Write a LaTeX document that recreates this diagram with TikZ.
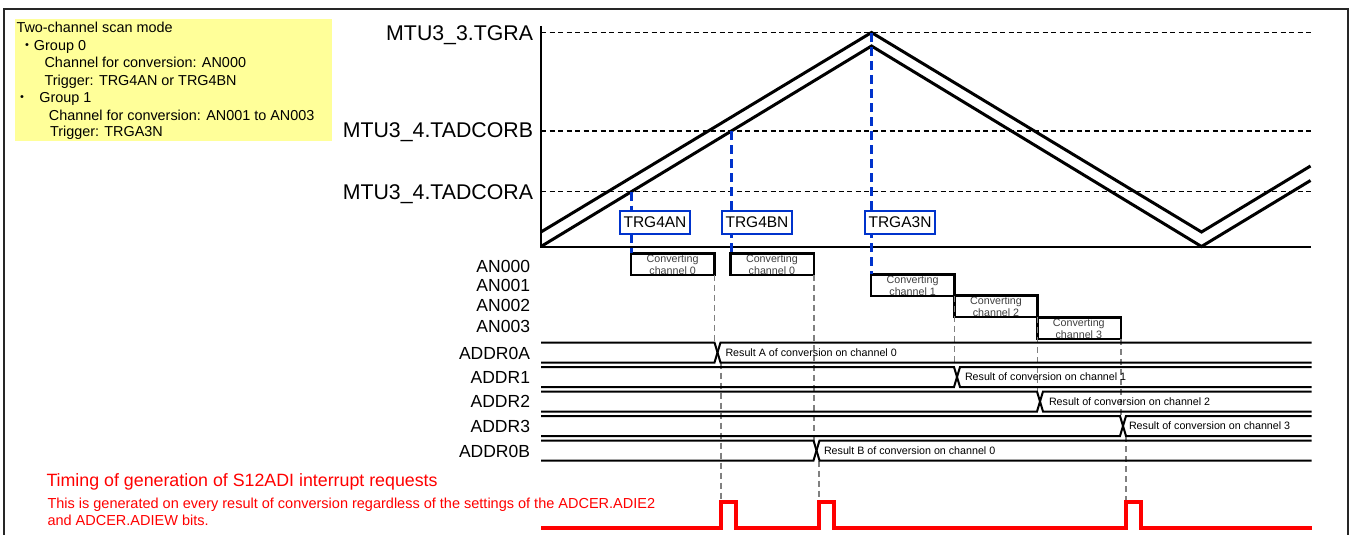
\documentclass[tikz,border=0pt]{standalone}
\usepackage{fontspec}
\setmainfont{Liberation Sans}
\newfontfamily\cjkfont{Noto Sans CJK JP}
\definecolor{noteyellow}{RGB}{255,255,153}
\definecolor{trigblue}{RGB}{0,51,204}
\definecolor{guidegray}{RGB}{128,128,128}
\begin{document}
\begin{tikzpicture}[x=1pt,y=-1pt,
  every node/.style={inner sep=0pt,outer sep=0pt},
  frameline/.style={line width=1.5pt,black!85},
  notebox/.style={fill=noteyellow,draw=none,anchor=north west},
  notetxt/.style={font=\fontsize{14.4}{17}\selectfont,anchor=base west},
  notedot/.style={font=\fontsize{14.4}{17}\cjkfont,anchor=base},
  levlbl/.style={font=\fontsize{21.3}{24}\selectfont,anchor=base east},
  axisline/.style={line width=2pt},
  levdash/.style={line width=1.2pt,dash pattern=on 5pt off 3.5pt},
  wave/.style={line width=3pt,line join=miter},
  trigline/.style={trigblue,line width=3pt,dash pattern=on 9pt off 5pt},
  trigbox/.style={draw=trigblue,line width=2pt,fill=white,minimum width=70pt,minimum height=22.5pt,font=\fontsize{15.5}{18}\selectfont},
  convbox/.style={draw,line width=2.5pt,minimum width=83.3pt,minimum height=21.5pt,anchor=north west},
  convtxt/.style={font=\fontsize{10.7}{11.5}\selectfont,text=black!75,align=center,anchor=north},
  rowlbl/.style={font=\fontsize{17.5}{20}\selectfont,anchor=base east},
  bus/.style={line width=2pt},
  restxt/.style={font=\fontsize{10.7}{12}\selectfont,anchor=base west},
  guide/.style={guidegray,line width=1.5pt,dash pattern=on 6pt off 4pt},
  irq/.style={red,line width=4pt,line join=miter},
  redtitle/.style={red,font=\fontsize{17.8}{20}\selectfont,anchor=base west},
  redtxt/.style={red,font=\fontsize{14.5}{16.5}\selectfont,anchor=base west},
]
\useasboundingbox (0,0) rectangle (1355,535);

% outer frame
\draw[frameline] (4,545) -- (4,9) -- (1348,9) -- (1348,545);

% note box
\node[notebox,minimum width=317pt,minimum height=121pt] (note) at (14.5,19.5) {};
\node[notetxt] (n1) at (16.5,32.7) {Two-channel scan mode};
\node[notedot] (d0) at (27,50.7) {・};
\node[notetxt] (n2) at (34,50.7) {Group 0};
\node[notetxt] (n3) at (44.6,67.7) {Channel for conversion: AN000};
\node[notetxt] (n4) at (44.6,85) {Trigger: TRG4AN or TRG4BN};
\node[notedot] (d1) at (22,102.7) {・};
\node[notetxt] (n5) at (39.3,102.7) {Group 1};
\node[notetxt] (n6) at (48.9,120) {Channel for conversion: AN001 to AN003};
\node[notetxt] (n7) at (50,136.7) {Trigger: TRGA3N};

% level labels
\node[levlbl] (tgra) at (533,40.7) {MTU3\_3.TGRA};
\node[levlbl] (tadb) at (533,137.5) {MTU3\_4.TADCORB};
\node[levlbl] (tada) at (533,199) {MTU3\_4.TADCORA};

% level lines
\draw[levdash] (541,32.5) -- (1311,32.5);
\draw[levdash] (541,131) -- (1311,131);
\draw[levdash] (541,191.5) -- (1311,191.5);

% axes
\draw[axisline] (541,26) -- (541,246.7) -- (1311,246.7);

% counter waves
\draw[wave] (541,246.5) -- (871.5,46) -- (1201.5,246.5) -- (1310.5,180.5);
\draw[wave] (541,232) -- (871.5,32.5) -- (1201.5,232) -- (1310.5,166);

% conversion boxes
\node[convtxt] (t0a) at (672.6,254.8) {Converting\\channel 0};
\node[convtxt] (t0b) at (771.9,254.8) {Converting\\channel 0};
\node[convtxt] (t1) at (912.6,275.8) {Converting\\channel 1};
\node[convtxt] (t2) at (996,297.2) {Converting\\channel 2};
\node[convtxt] (t3) at (1078.8,318.8) {Converting\\channel 3};
\node[convbox] (c0a) at (631,253.3) {};
\node[convbox] (c0b) at (730.5,253.3) {};
\node[convbox] (c1) at (871,274.3) {};
\node[convbox] (c2) at (954.3,295.7) {};
\node[convbox] (c3) at (1037.7,317.3) {};

% trigger lines and labels
\coordinate (ta) at (631.5,191.5);
\coordinate (tb) at (731,131);
\coordinate (tc) at (871.5,33);
\draw[trigline] (ta) -- (ta |- c0a.north);
\draw[trigline] (tb) -- (tb |- c0b.north);
\draw[trigline] (tc) -- (tc |- c1.north);
\node[trigbox] (trga) at (655,222.3) {TRG4AN};
\node[trigbox] (trgb) at (757,222.3) {TRG4BN};
\node[trigbox] (trgc) at (900,222.5) {TRGA3N};

% row labels
\node[rowlbl] (an0) at (530,272.3) {AN000};
\node[rowlbl] (an1) at (530,291.7) {AN001};
\node[rowlbl] (an2) at (530,311.5) {AN002};
\node[rowlbl] (an3) at (530,332.3) {AN003};
\node[rowlbl] (ad0a) at (530,359) {ADDR0A};
\node[rowlbl] (ad1) at (530,383.3) {ADDR1};
\node[rowlbl] (ad2) at (530,407.8) {ADDR2};
\node[rowlbl] (ad3) at (530,432.3) {ADDR3};
\node[rowlbl] (ad0b) at (530,457) {ADDR0B};

% row coordinates
\coordinate (r0t) at (541,342.5); \coordinate (r0b) at (541,362.5);
\coordinate (r1t) at (541,367);   \coordinate (r1b) at (541,387);
\coordinate (r2t) at (541,391.5); \coordinate (r2b) at (541,411.5);
\coordinate (r3t) at (541,416);   \coordinate (r3b) at (541,436);
\coordinate (r4t) at (541,440.5); \coordinate (r4b) at (541,460.5);

% interrupt pulse edges
\coordinate (p1) at (721,502);
\coordinate (p2) at (819,502);
\coordinate (p3) at (1126,502);

% guide lines
\draw[guide] (c0a.south east) -- (c0a.south east |- r0t);
\draw[guide] (p1 |- r0b) -- (p1);
\draw[guide] (c0b.south east) -- (c0b.south east |- r4t);
\draw[guide] (p2 |- r4b) -- (p2);
\draw[guide] (c1.south east) -- (c1.south east |- r1t);
\draw[guide] (c2.south east) -- (c2.south east |- r2t);
\draw[guide] (c3.south east) -- (c3.south east |- r3t);
\draw[guide] (p3 |- r3b) -- (p3);

% buses
\foreach \t/\b/\x in {342.5/362.5/717.5, 367/387/957, 391.5/411.5/1040, 416/436/1123, 440.5/460.5/816.5}{
  \draw[bus] (541,\t) -- (\x-3,\t) -- (\x+3,\b) -- (1311.5,\b);
  \draw[bus] (541,\b) -- (\x-3,\b) -- (\x+3,\t) -- (1311.5,\t);
}
\node[restxt] (res0a) at (725.5,356.3) {Result A of conversion on channel 0};
\node[restxt] (res1) at (965,380.8) {Result of conversion on channel 1};
\node[restxt] (res2) at (1049,405.3) {Result of conversion on channel 2};
\node[restxt] (res3) at (1129,429.8) {Result of conversion on channel 3};
\node[restxt] (res0b) at (824,454.3) {Result B of conversion on channel 0};

% interrupt request waveform
\draw[irq] (541,528) -- (721,528) -- (p1) -- (736,502) -- (736,528) -- (819,528) -- (p2) -- (834,502) -- (834,528) -- (1126,528) -- (p3) -- (1141,502) -- (1141,528) -- (1311.5,528);

\node[redtitle] (irqtitle) at (46.5,486.3) {Timing of generation of S12ADI interrupt requests};
\node[redtxt] (irqnote1) at (47.5,508.9) {This is generated on every result of conversion regardless of the settings of the ADCER.ADIE2};
\node[redtxt] (irqnote2) at (47.5,525.2) {and ADCER.ADIEW bits.};
\end{tikzpicture}
\end{document}
